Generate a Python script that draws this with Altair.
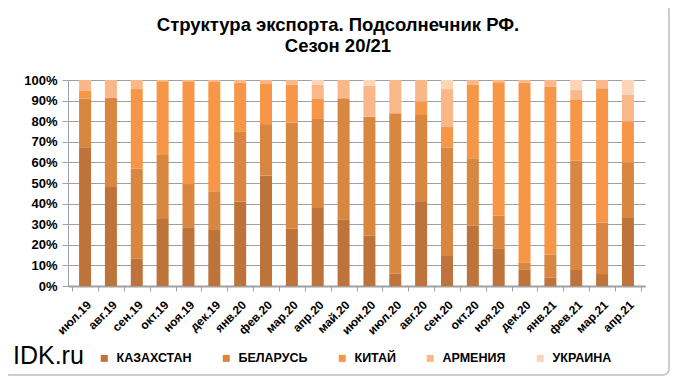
import altair as alt
import pandas as pd

months = ["июл.19", "авг.19", "сен.19", "окт.19", "ноя.19", "дек.19", "янв.20", "фев.20",
          "мар.20", "апр.20", "май.20", "июн.20", "июл.20", "авг.20", "сен.20", "окт.20",
          "ноя.20", "дек.20", "янв.21", "фев.21", "мар.21", "апр.21"]
series = ["КАЗАХСТАН", "БЕЛАРУСЬ", "КИТАЙ", "АРМЕНИЯ", "УКРАИНА"]
kaz = [67.3, 48.0, 13.4, 32.5, 28.5, 27.2, 41.0, 53.7, 27.8, 37.9, 32.4, 24.4, 6.1, 40.8, 14.6, 29.3, 18.0, 7.8, 4.0, 7.8, 5.8, 33.0]
bel = [23.7, 43.4, 43.6, 31.1, 21.0, 18.8, 33.8, 24.9, 51.5, 43.5, 58.7, 57.8, 77.7, 42.2, 52.6, 32.7, 16.1, 3.7, 11.3, 53.0, 25.0, 26.9]
chn = [3.7, 0.0, 38.6, 35.8, 49.9, 53.0, 23.9, 19.8, 18.4, 9.4, 0.0, 0.0, 0.0, 6.5, 10.0, 35.6, 64.8, 87.2, 81.5, 29.5, 65.2, 19.9]
arm = [5.3, 8.6, 4.4, 0.6, 0.6, 1.0, 1.3, 1.6, 2.3, 6.8, 8.9, 15.0, 16.2, 10.5, 18.4, 2.4, 1.1, 1.3, 3.2, 4.8, 4.0, 13.2]
ukr = [0.0, 0.0, 0.0, 0.0, 0.0, 0.0, 0.0, 0.0, 0.0, 2.4, 0.0, 2.8, 0.0, 0.0, 4.4, 0.0, 0.0, 0.0, 0.0, 4.9, 0.0, 7.0]
colors = ["#BD7339", "#D98641", "#F79646", "#FAB88A", "#FCD5B9"]
y_ticks = list(range(0, 101, 10))
title_text = "Структура экспорта. Подсолнечник РФ.\nСезон 20/21"

rows = []
for i, m in enumerate(months):
    for j, (s, vals) in enumerate(zip(series, [kaz, bel, chn, arm, ukr])):
        rows.append({"month": m, "series": s, "ord": j, "value": vals[i]})
df = pd.DataFrame(rows)

FONT = "Liberation Sans"

bars = alt.Chart(df).mark_bar(size=12).encode(
    x=alt.X("month:N", sort=months,
            scale=alt.Scale(paddingInner=0, paddingOuter=0.16),
            axis=alt.Axis(title=None, labelAngle=-45, labelFont=FONT, labelFontSize=12,
                          labelFontWeight="bold", labelColor="black", labelPadding=8,
                          tickBand="extent", tickColor="#A0A0A0", domainColor="#A0A0A0",
                          domainWidth=2, grid=False)),
    y=alt.Y("value:Q", stack="zero", scale=alt.Scale(domain=[0, 100], nice=False),
            axis=alt.Axis(title=None, values=y_ticks, labelExpr="datum.value + '%'",
                          labelFont=FONT, labelFontSize=13, labelFontWeight="bold",
                          labelColor="black", grid=True, gridColor="#A0A0A0",
                          tickSize=6, labelPadding=5,
                          domainColor="#A0A0A0", tickColor="#A0A0A0")),
    color=alt.Color("series:N", scale=alt.Scale(domain=series, range=colors),
                    legend=alt.Legend(title=None, orient="none", direction="horizontal",
                                      legendX=30, legendY=272, labelFont=FONT,
                                      labelFontSize=12.5, labelFontWeight="bold",
                                      labelColor="black", symbolType="square",
                                      symbolSize=49, columnPadding=28, labelOffset=6,
                                      symbolStrokeWidth=0)),
    order=alt.Order("ord:Q", sort="ascending"),
)

title = alt.Chart(pd.DataFrame({"t": [title_text]})).mark_text(
    font=FONT, fontSize=18.5, fontWeight="bold", align="center", baseline="alphabetic",
    lineBreak="\n", lineHeight=21, color="black"
).encode(text="t:N", x=alt.value(270), y=alt.value(-49))

brand = alt.Chart(pd.DataFrame({"t": ["IDK.ru"]})).mark_text(
    font=FONT, fontSize=25, align="left", baseline="middle", color="black"
).encode(text="t:N", x=alt.value(-55), y=alt.value(276))

frame = alt.Chart(pd.DataFrame({"t": [0]})).mark_rect(
    fillOpacity=0, stroke="#BFBFBF", strokeWidth=1.5, cornerRadius=6
).encode(x=alt.value(-64), y=alt.value(-76), x2=alt.value(601), y2=alt.value(295))

chart = alt.layer(bars, title, brand, frame).properties(
    width=577, height=206,
    autosize=alt.AutoSizeParams(type="none"),
    padding={"left": 60, "top": 72, "right": 27, "bottom": 90},
).configure_view(strokeWidth=0)

chart.save("out.html", embed_options={"renderer": "svg", "actions": False})
